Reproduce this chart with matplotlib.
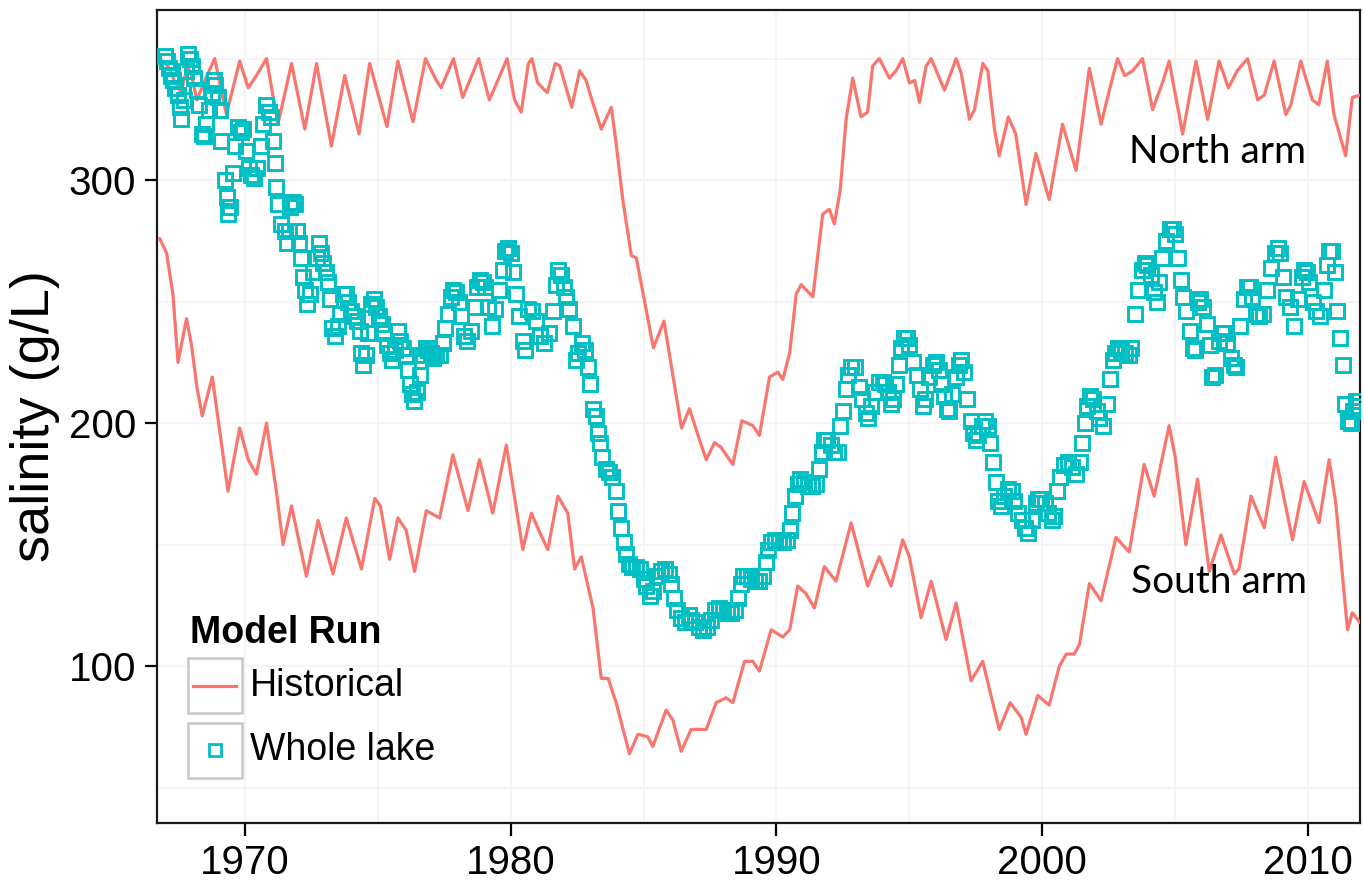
import matplotlib
matplotlib.use("Agg")
import matplotlib.pyplot as plt
from matplotlib.patches import Rectangle
from matplotlib.lines import Line2D

plt.rcParams['font.family'] = ['Liberation Sans', 'DejaVu Sans']

RED = '#F8766D'
TEAL = '#00BFC4'

# Historical model run, north arm (year, g/L)
north_year = [1966.8, 1967.1, 1967.35, 1967.6, 1967.85, 1968.0, 1968.2, 1968.5, 1968.87,
              1969.31, 1969.81, 1970.13, 1970.44, 1970.82, 1971.25, 1971.76, 1972.26,
              1972.7, 1973.26, 1973.76, 1974.3, 1974.7, 1975.35, 1975.76, 1976.33, 1976.8,
              1977.21, 1977.39, 1977.85, 1978.2, 1978.8, 1979.2, 1979.4, 1979.87, 1980.15,
              1980.4, 1980.67, 1980.8, 1981.02, 1981.38, 1981.68, 1981.85, 1982.3, 1982.6,
              1982.84, 1983.03, 1983.41, 1983.79, 1983.97, 1984.22, 1984.54, 1984.73,
              1985.37, 1985.77, 1986.43, 1986.73, 1987.11, 1987.36, 1987.67, 1987.92,
              1988.36, 1988.7, 1989.11, 1989.36, 1989.74, 1990.05, 1990.24, 1990.5,
              1990.74, 1990.93, 1991.37, 1991.74, 1991.99, 1992.18, 1992.4, 1992.62,
              1992.87, 1993.18, 1993.43, 1993.62, 1993.87, 1994.25, 1994.5, 1994.75,
              1995.0, 1995.2, 1995.38, 1995.63, 1995.82, 1996.32, 1996.76, 1996.95,
              1997.26, 1997.45, 1997.76, 1997.95, 1998.2, 1998.38, 1998.72, 1999.0,
              1999.39, 1999.76, 2000.26, 2000.76, 2001.27, 2001.77, 2002.21, 2002.5,
              2002.83, 2003.1, 2003.4, 2003.77, 2004.15, 2004.55, 2004.77, 2005.28,
              2005.78, 2006.22, 2006.65, 2007.0, 2007.1, 2007.33, 2007.72, 2008.1,
              2008.35, 2008.72, 2009.16, 2009.35, 2009.72, 2010.16, 2010.4, 2010.72,
              2010.97, 2011.41, 2011.66, 2011.95]
north_val = [350, 347, 341, 336, 347, 343, 333, 341, 350,
             327, 349, 338, 343, 350, 323, 348, 321,
             348, 314, 343, 319, 348, 322, 349, 324, 350,
             341, 338, 350, 334, 350, 333, 338, 350, 333,
             328, 348, 350, 340, 336, 348, 347, 330, 345,
             341, 334, 321, 330, 315, 292, 269, 268,
             231, 242, 198, 206, 193, 185, 192, 190,
             183, 201, 199, 195, 219, 221, 218, 229,
             253, 257, 252, 286, 288, 282, 296, 325,
             342, 326, 328, 347, 350, 342, 345, 350,
             340, 341, 332, 347, 350, 337, 350, 344,
             325, 329, 348, 345, 321, 310, 326, 319,
             290, 311, 292, 323, 304, 346, 323, 336,
             350, 343, 345, 350, 329, 341, 349, 319,
             349, 325, 349, 338, 340, 345, 350, 333,
             335, 349, 327, 331, 349, 333, 331, 349,
             327, 310, 334, 335]

# Historical model run, south arm
south_year = [1966.8, 1967.06, 1967.3, 1967.49, 1967.81, 1968.0, 1968.2, 1968.4, 1968.78,
              1969.37, 1969.81, 1970.13, 1970.44, 1970.82, 1971.19, 1971.44, 1971.76,
              1972.32, 1972.76, 1973.32, 1973.82, 1974.39, 1974.89, 1975.1, 1975.45,
              1975.76, 1976.07, 1976.39, 1976.83, 1977.33, 1977.83, 1978.4, 1978.83,
              1979.33, 1979.84, 1980.46, 1980.78, 1981.1, 1981.4, 1981.78, 1982.15,
              1982.41, 1982.66, 1983.1, 1983.41, 1983.67, 1983.97, 1984.47, 1984.79,
              1985.16, 1985.35, 1985.85, 1986.1, 1986.42, 1986.79, 1987.36, 1987.73,
              1988.11, 1988.36, 1988.8, 1989.11, 1989.36, 1989.8, 1990.24, 1990.5,
              1990.8, 1991.1, 1991.43, 1991.8, 1992.24, 1992.81, 1993.43, 1993.87,
              1994.31, 1994.75, 1995.0, 1995.44, 1995.82, 1996.38, 1996.76, 1997.32,
              1997.76, 1998.38, 1998.79, 1999.2, 1999.39, 1999.83, 2000.26, 2000.64,
              2000.9, 2001.2, 2001.4, 2001.77, 2002.21, 2002.77, 2003.27, 2003.83,
              2004.21, 2004.77, 2005.0, 2005.4, 2005.84, 2006.28, 2006.72, 2007.22,
              2007.4, 2007.85, 2008.35, 2008.78, 2009.41, 2009.85, 2010.41, 2010.79,
              2011.04, 2011.48, 2011.66, 2011.95]
south_val = [276, 270, 253, 225, 243, 232, 215, 203, 219,
             172, 198, 185, 179, 200, 172, 150, 166,
             137, 160, 138, 161, 140, 169, 166, 144,
             161, 156, 139, 164, 161, 187, 164, 185,
             163, 191, 148, 163, 155, 148, 170, 163,
             140, 145, 124, 95, 95, 85, 64, 72,
             71, 67, 82, 78, 65, 74, 74, 85,
             87, 85, 102, 102, 98, 115, 112, 115,
             133, 130, 124, 141, 135, 159, 133, 145,
             133, 152, 145, 120, 135, 111, 126, 94,
             102, 74, 85, 79, 72, 88, 84, 100,
             105, 105, 109, 134, 127, 153, 147, 183,
             170, 199, 186, 150, 177, 139, 154, 138,
             140, 170, 157, 186, 152, 176, 159, 185,
             167, 115, 122, 118]

# Whole lake model run
lake_year = [1967.0, 1967.08, 1967.15, 1967.22, 1967.3, 1967.38, 1967.48, 1967.56, 1967.62,
             1967.7, 1967.8, 1967.88, 1967.95, 1968.02, 1968.1, 1968.2, 1968.27, 1968.38,
             1968.45, 1968.55, 1968.65, 1968.75, 1968.83, 1968.9, 1969.0, 1969.07, 1969.12,
             1969.25, 1969.33, 1969.38, 1969.45, 1969.55, 1969.65, 1969.75, 1969.85,
             1969.95, 1970.05, 1970.15, 1970.25, 1970.35, 1970.48, 1970.6, 1970.7, 1970.8,
             1970.9, 1971.0, 1971.07, 1971.13, 1971.19, 1971.27, 1971.38, 1971.5, 1971.58,
             1971.65, 1971.72, 1971.8, 1971.88, 1971.95, 1972.05, 1972.13, 1972.19,
             1972.25, 1972.35, 1972.45, 1972.57, 1972.7, 1972.8, 1972.88, 1972.95, 1973.05,
             1973.13, 1973.22, 1973.3, 1973.38, 1973.5, 1973.6, 1973.7, 1973.8, 1973.9,
             1974.0, 1974.1, 1974.22, 1974.32, 1974.38, 1974.45, 1974.55, 1974.64, 1974.75,
             1974.85, 1974.95, 1975.05, 1975.15, 1975.25, 1975.35, 1975.45, 1975.55,
             1975.65, 1975.76, 1975.85, 1975.95, 1976.05, 1976.14, 1976.22, 1976.3,
             1976.38, 1976.48, 1976.58, 1976.7, 1976.8, 1976.9, 1977.0, 1977.1, 1977.2,
             1977.33, 1977.45, 1977.55, 1977.65, 1977.75, 1977.85, 1977.95, 1978.05,
             1978.15, 1978.25, 1978.35, 1978.5, 1978.65, 1978.75, 1978.85, 1978.95,
             1979.05, 1979.15, 1979.3, 1979.4, 1979.55, 1979.7, 1979.8, 1979.9, 1980.0,
             1980.1, 1980.2, 1980.3, 1980.45, 1980.55, 1980.65, 1980.8, 1980.95, 1981.1,
             1981.25, 1981.45, 1981.6, 1981.7, 1981.8, 1981.9, 1982.0, 1982.1, 1982.2,
             1982.35, 1982.45, 1982.55, 1982.7, 1982.8, 1982.9, 1983.0, 1983.1, 1983.2,
             1983.3, 1983.35, 1983.45, 1983.6, 1983.7, 1983.8, 1983.95, 1984.05, 1984.15,
             1984.25, 1984.35, 1984.45, 1984.55, 1984.7, 1984.85, 1985.0, 1985.1, 1985.25,
             1985.35, 1985.5, 1985.65, 1985.8, 1985.95, 1986.05, 1986.15, 1986.25, 1986.4,
             1986.55, 1986.7, 1986.8, 1986.95, 1987.1, 1987.25, 1987.4, 1987.55, 1987.7,
             1987.85, 1988.0, 1988.15, 1988.3, 1988.45, 1988.55, 1988.65, 1988.75, 1988.9,
             1989.05, 1989.2, 1989.35, 1989.5, 1989.6, 1989.7, 1989.8, 1989.95, 1990.1,
             1990.25, 1990.4, 1990.5, 1990.6, 1990.7, 1990.8, 1990.9, 1991.05, 1991.2,
             1991.35, 1991.5, 1991.6, 1991.7, 1991.8, 1991.9, 1992.05, 1992.15, 1992.3,
             1992.4, 1992.5, 1992.6, 1992.7, 1992.8, 1992.95, 1993.1, 1993.2, 1993.35,
             1993.45, 1993.55, 1993.7, 1993.85, 1994.0, 1994.1, 1994.2, 1994.3, 1994.4,
             1994.5, 1994.6, 1994.7, 1994.8, 1994.9, 1995.0, 1995.15, 1995.3, 1995.4,
             1995.5, 1995.6, 1995.75, 1995.9, 1996.0, 1996.1, 1996.2, 1996.3, 1996.4,
             1996.5, 1996.6, 1996.75, 1996.85, 1996.95, 1997.05, 1997.15, 1997.3, 1997.4,
             1997.5, 1997.6, 1997.75, 1997.85, 1997.95, 1998.05, 1998.15, 1998.25,
             1998.35, 1998.45, 1998.55, 1998.7, 1998.85, 1998.95, 1999.1, 1999.25,
             1999.35, 1999.45, 1999.6, 1999.75, 1999.85, 1999.95, 2000.1, 2000.2, 2000.35,
             2000.45, 2000.55, 2000.65, 2000.8, 2000.95, 2001.1, 2001.25, 2001.4, 2001.5,
             2001.6, 2001.7, 2001.8, 2001.9, 2002.05, 2002.15, 2002.3, 2002.45, 2002.55,
             2002.65, 2002.75, 2002.85, 2002.95, 2003.1, 2003.25, 2003.35, 2003.5, 2003.6,
             2003.75, 2003.85, 2003.95, 2004.1, 2004.2, 2004.3, 2004.4, 2004.5, 2004.65,
             2004.8, 2004.9, 2005.0, 2005.1, 2005.2, 2005.3, 2005.4, 2005.55, 2005.65,
             2005.75, 2005.85, 2005.95, 2006.05, 2006.2, 2006.3, 2006.4, 2006.5, 2006.65,
             2006.75, 2006.85, 2006.95, 2007.1, 2007.2, 2007.3, 2007.45, 2007.6, 2007.7,
             2007.8, 2007.9, 2008.05, 2008.15, 2008.3, 2008.45, 2008.6, 2008.75, 2008.85,
             2008.95, 2009.05, 2009.15, 2009.3, 2009.45, 2009.6, 2009.75, 2009.85, 2009.95,
             2010.05, 2010.2, 2010.3, 2010.45, 2010.6, 2010.7, 2010.8, 2010.9, 2011.0,
             2011.1, 2011.2, 2011.3, 2011.4, 2011.5, 2011.6, 2011.7, 2011.8, 2011.9]
lake_val = [351, 349, 346, 343, 341, 338, 335, 330, 325,
            333, 345, 352, 350, 347, 342, 337, 331, 319,
            318, 323, 329, 336, 341, 339, 334, 329, 316,
            300, 293, 286, 289, 303, 314, 322, 320,
            321, 312, 305, 302, 301, 305, 314, 323, 331,
            328, 326, 316, 307, 297, 290, 282, 279, 274,
            279, 289, 291, 290, 279, 274, 268, 260,
            255, 249, 253, 262, 268, 274, 270, 266, 262,
            258, 251, 239, 236, 240, 245, 253, 253, 250,
            246, 244, 242, 238, 229, 224, 228, 237, 249,
            251, 248, 244, 241, 237, 232, 229, 226,
            230, 238, 234, 231, 228, 222, 216, 212,
            209, 213, 220, 228, 231, 230, 229, 227, 228,
            228, 233, 239, 245, 252, 255, 254, 250,
            244, 236, 234, 238, 248, 256, 259, 258,
            256, 248, 240, 247, 255, 263, 271, 272, 270,
            262, 253, 244, 234, 230, 247, 246, 242, 236,
            233, 237, 246, 257, 263, 261, 256, 252, 247,
            240, 226, 229, 233, 230, 223, 216, 206, 203,
            196, 192, 186, 181, 180, 178, 172, 164, 157,
            151, 146, 142, 141, 141, 140, 136, 133, 129,
            131, 137, 139, 140, 138, 134, 128, 123, 120,
            118, 121, 119, 118, 116, 115, 116, 119, 123,
            124, 123, 122, 122, 123, 128, 134, 137, 137,
            136, 135, 135, 137, 143, 148, 151, 152, 151,
            151, 152, 156, 163, 170, 175, 177, 176, 174,
            174, 175, 181, 188, 193, 193, 191, 188, 188,
            199, 205, 214, 220, 223, 223, 215, 210, 204,
            202, 207, 213, 217, 217, 216, 213, 208, 210,
            216, 224, 231, 235, 235, 232, 225, 220, 214,
            207, 210, 219, 224, 225, 222, 216, 211, 206,
            205, 212, 219, 224, 226, 221, 210, 201, 196,
            193, 195, 199, 201, 199, 192, 184, 176,
            168, 166, 170, 173, 172, 168, 163, 160,
            157, 155, 160, 167, 169, 169, 167, 163, 160,
            162, 172, 178, 183, 184, 182, 179, 184, 192,
            200, 207, 211, 210, 205, 202, 199, 208, 218,
            226, 229, 231, 230, 229, 228, 231, 245, 255,
            263, 266, 265, 261, 254, 250, 258, 268, 275,
            280, 280, 278, 268, 259, 252, 246, 238, 231,
            230, 250, 251, 248, 241, 232, 219, 220, 234,
            237, 237, 233, 227, 224, 223, 240, 251, 256,
            256, 252, 245, 244, 245, 255, 264, 270, 272,
            270, 260, 252, 248, 240, 251, 260, 263, 262,
            258, 250, 246, 244, 255, 265, 271, 271, 262,
            246, 235, 224, 208, 201, 200, 205, 209, 207]

x_ticks = [1970, 1980, 1990, 2000, 2010]
y_ticks = [100, 200, 300]

fig = plt.figure(figsize=(13.64, 8.88), dpi=100)
ax = fig.add_axes([157 / 1364, 65 / 888, 1203 / 1364, 813 / 888])

line_kw = dict(color=RED, lw=2.3, solid_joinstyle='round', solid_capstyle='round', zorder=3)
ax.plot(north_year, north_val, **line_kw)
ax.plot(south_year, south_val, **line_kw)
ax.plot(lake_year, lake_val, ls='none', marker='s', ms=10, mfc='none',
        mec=TEAL, mew=2.1, zorder=4)

ax.set_xlim(1966.7, 2011.95)
ax.set_ylim(35.5, 370)
ax.set_xticks(x_ticks)
ax.set_yticks(y_ticks)
ax.set_xticks([1975, 1985, 1995, 2005], minor=True)
ax.set_yticks([50, 150, 250, 350], minor=True)
ax.grid(True, which='both', color='#F4F4F4', lw=1.2, zorder=0)
ax.set_axisbelow(True)
ax.tick_params(which='major', length=9, width=1.6, labelsize=29, pad=6)
ax.tick_params(which='minor', length=0)
for s in ax.spines.values():
    s.set_linewidth(1.6)
    s.set_color('#1a1a1a')
ax.set_ylabel('salinity (g/L)', fontsize=39, labelpad=6)

ax.text(2003.27, 307, 'North arm', fontsize=28, family='Lato', ha='left', va='baseline')
ax.text(2003.35, 130, 'South arm', fontsize=28, family='Lato', ha='left', va='baseline')

# legend drawn ggplot style
tr = ax.transAxes
ax.text(0.0274, 0.2337, 'Model Run', transform=tr, fontsize=27, fontweight='bold',
        ha='left', va='center', zorder=6)
for y0 in (0.1353, 0.0554):
    ax.add_patch(Rectangle((0.0258, y0), 0.0449, 0.0677, transform=tr, fill=True,
                           fc='white', ec='#C8C8C8', lw=1.8, zorder=5))
ax.add_line(Line2D([0.0299, 0.0657], [0.1691, 0.1691], transform=tr, color=RED,
                   lw=2.3, zorder=6))
ax.add_line(Line2D([0.0482], [0.0892], transform=tr, ls='none', marker='s', ms=9,
                   mfc='none', mec=TEAL, mew=2.0, zorder=6))
ax.text(0.0773, 0.1691, 'Historical', transform=tr, fontsize=27, ha='left',
        va='center', zorder=6)
ax.text(0.0773, 0.0892, 'Whole lake', transform=tr, fontsize=27, ha='left',
        va='center', zorder=6)

fig.savefig('out.png', dpi=100)
